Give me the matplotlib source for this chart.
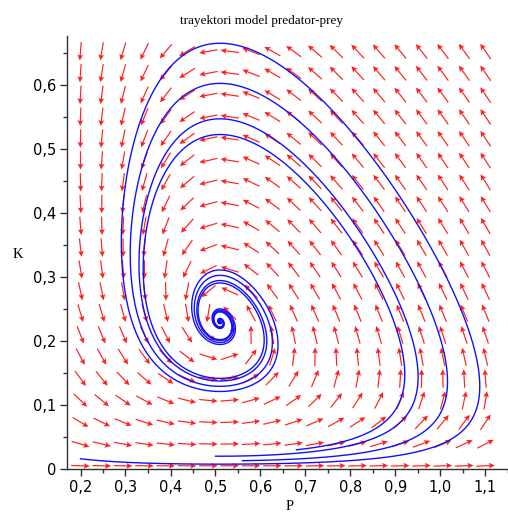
import numpy as np
import matplotlib
matplotlib.use("Agg")
import matplotlib.pyplot as plt

# ---- text ----
title = "trayektori model predator-prey"
x_label = "P"
y_label = "K"
x_ticks = [0.2, 0.3, 0.4, 0.5, 0.6, 0.7, 0.8, 0.9, 1.0, 1.1]
x_tick_labels = ["0,2", "0,3", "0,4", "0,5", "0,6", "0,7", "0,8", "0,9", "1,0", "1,1"]
y_ticks = [0.0, 0.1, 0.2, 0.3, 0.4, 0.5, 0.6]
y_tick_labels = ["0", "0,1", "0,2", "0,3", "0,4", "0,5", "0,6"]

# ---- model parameters (estimated from the arrow field and trajectories) ----
# dP/dt = prey_inflow + P*(prey_growth - prey_crowding*P - K)
# dK/dt = K*(-predator_death + predator_gain*P)
prey_inflow = 0.08
prey_growth = 0.0884
prey_crowding = 0.03
predator_death = 0.80
predator_gain = 1.5686

# ---- initial conditions of the trajectories ----
initial_P = [0.2, 0.5, 0.56, 0.68]
initial_K = [0.016, 0.02, 0.013, 0.03]
t_end = 110.0
dt = 0.01

# ---- arrow grid ----
grid_P = np.linspace(0.2, 1.1, 20)
grid_K = np.linspace(0.005, 0.653, 20)


def rhs(P, K):
    dP = prey_inflow + P * (prey_growth - prey_crowding * P - K)
    dK = K * (-predator_death + predator_gain * P)
    return dP, dK


def integrate(P0, K0):
    n = int(t_end / dt)
    Ps = np.empty(n + 1)
    Ks = np.empty(n + 1)
    P, K = P0, K0
    Ps[0], Ks[0] = P, K
    for i in range(n):
        a1, b1 = rhs(P, K)
        a2, b2 = rhs(P + 0.5 * dt * a1, K + 0.5 * dt * b1)
        a3, b3 = rhs(P + 0.5 * dt * a2, K + 0.5 * dt * b2)
        a4, b4 = rhs(P + dt * a3, K + dt * b3)
        P += dt / 6 * (a1 + 2 * a2 + 2 * a3 + a4)
        K += dt / 6 * (b1 + 2 * b2 + 2 * b3 + b4)
        Ps[i + 1], Ks[i + 1] = P, K
    return Ps, Ks


W, H = 508, 512
fig = plt.figure(figsize=(W / 100, H / 100), dpi=100)
x0, x1, y0, y1 = 67, 508, 36, 469
ax = fig.add_axes([x0 / W, 1 - y1 / H, (x1 - x0) / W, (y1 - y0) / H])
xmin, xmax, ymin, ymax = 0.170, 1.113, 0.0, 0.677
ax.set_xlim(xmin, xmax)
ax.set_ylim(ymin, ymax)

# arrows: direction in screen space, fixed length
PP, KK = np.meshgrid(grid_P, grid_K)
dP, dK = rhs(PP, KK)
U = dP * (x1 - x0) / (xmax - xmin)
V = dK * (y1 - y0) / (ymax - ymin)
L = np.hypot(U, V)
U, V = U / L, V / L
ax.quiver(PP, KK, U, V, color="#ff2020", angles="uv", pivot="middle",
          scale_units="inches", scale=1 / 0.185, width=0.0027,
          headwidth=4.8, headlength=5.0, headaxislength=4.2, zorder=2)

for P0, K0 in zip(initial_P, initial_K):
    Ps, Ks = integrate(P0, K0)
    ax.plot(Ps, Ks, color="#1010ff", lw=1.0, zorder=3)

for s in ["top", "right"]:
    ax.spines[s].set_visible(False)
for s in ["left", "bottom"]:
    ax.spines[s].set_color("#303030")
    ax.spines[s].set_linewidth(1.0)

ax.set_xticks(x_ticks)
ax.set_xticklabels(x_tick_labels)
ax.set_xticks(np.array(x_ticks) + 0.05, minor=True)
ax.set_yticks(y_ticks)
ax.set_yticklabels(y_tick_labels)
ax.set_yticks(np.array(y_ticks) + 0.05, minor=True)
ax.tick_params(which="major", length=5, width=1, color="#303030",
               labelsize=10.5, pad=3)
ax.tick_params(which="minor", length=3, width=1, color="#303030")

fig.text(262 / W, 1 - 21 / H, title, ha="center", va="center",
         family="Liberation Serif", fontsize=9.5)
fig.text(290 / W, 1 - 506 / H, x_label, ha="center", va="center",
         family="Liberation Serif", fontsize=10.5)
fig.text(18 / W, 1 - 255 / H, y_label, ha="center", va="center",
         family="Liberation Serif", fontsize=10.5)

fig.savefig("out.png", dpi=100)
